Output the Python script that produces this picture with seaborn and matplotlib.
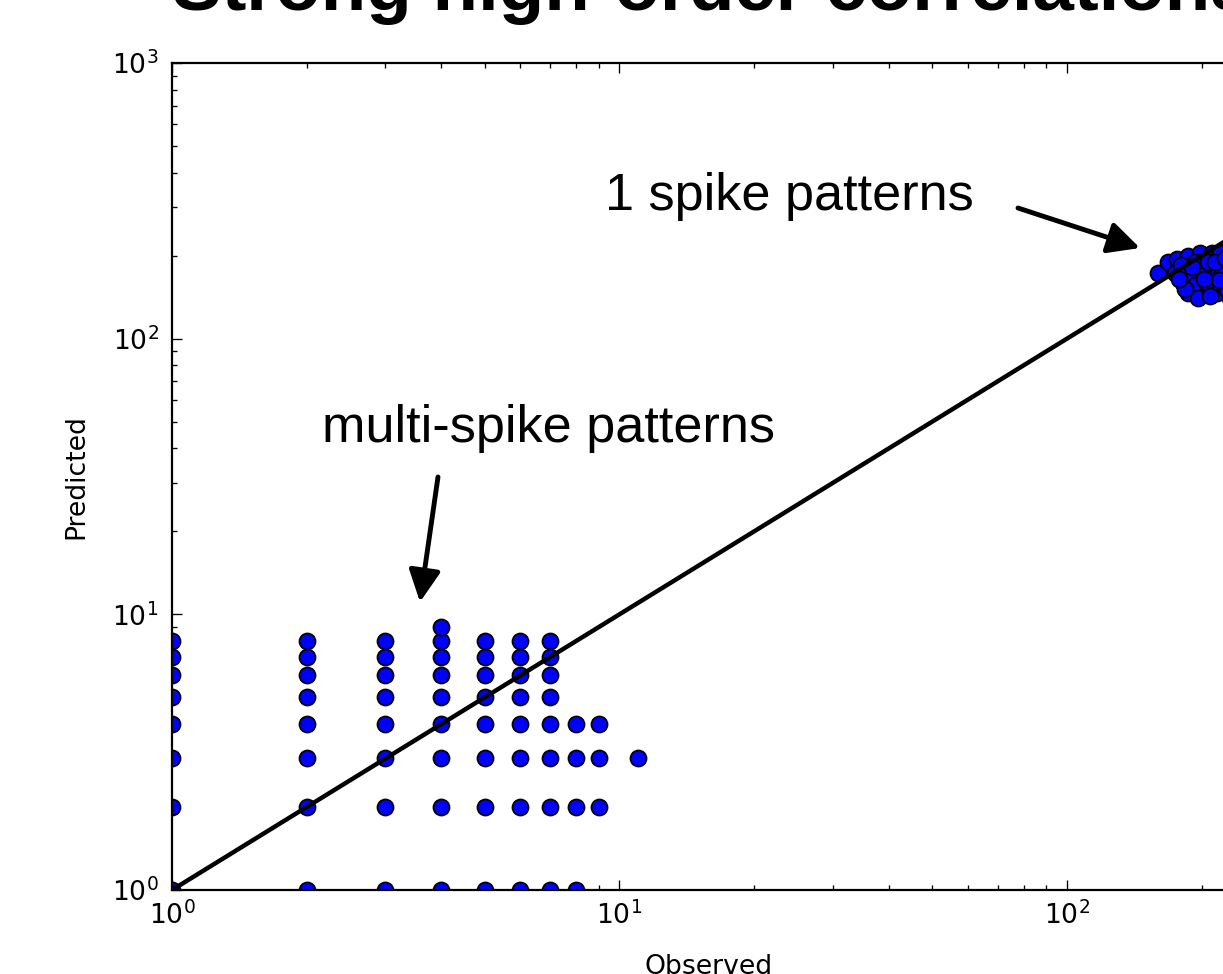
import matplotlib
matplotlib.use("Agg")
import matplotlib.pyplot as plt
import seaborn as sns
import pandas as pd

# ---------------- data ----------------
# multi-spike patterns (observed count, predicted count)
multi_observed = [1, 1, 1, 1, 1, 1, 1, 1,
                  2, 2, 2, 2, 2, 2, 2, 2,
                  3, 3, 3, 3, 3, 3, 3, 3,
                  4, 4, 4, 4, 4, 4, 4, 4, 4,
                  5, 5, 5, 5, 5, 5, 5, 5,
                  6, 6, 6, 6, 6, 6, 6, 6,
                  7, 7, 7, 7, 7, 7, 7, 7,
                  8, 8, 8, 8,
                  9, 9, 9,
                  11]
multi_predicted = [1, 2, 3, 4, 5, 6, 7, 8,
                   1, 2, 3, 4, 5, 6, 7, 8,
                   1, 2, 3, 4, 5, 6, 7, 8,
                   1, 2, 3, 4, 5, 6, 7, 8, 9,
                   1, 2, 3, 4, 5, 6, 7, 8,
                   1, 2, 3, 4, 5, 6, 7, 8,
                   1, 2, 3, 4, 5, 6, 7, 8,
                   1, 2, 3, 4,
                   2, 3, 4,
                   3]

# single-spike patterns (cluster)
single_observed = [160, 168, 176, 186, 198, 211, 220, 216, 212, 198, 186, 182,
                   174, 188, 201, 217, 193, 207, 222, 193, 224, 230, 240, 235,
                   228, 245, 180, 190, 205, 214, 196, 184, 209, 219, 226,
                   202, 178, 238, 232]
single_predicted = [173, 190, 195, 199, 204, 204, 204, 177, 156, 149, 146, 159,
                    173, 170, 173, 147, 190, 190, 173, 156, 157, 200, 210, 180,
                    150, 165, 185, 182, 160, 190, 141, 152, 143, 163, 196,
                    165, 165, 190, 140]

identity_x = [1, 1000]
identity_y = [1, 1000]

x_limits = [1, 250]
y_limits = [1, 1000]

x_label = "Observed"
y_label = "Predicted"
title = "Strong high-order correlations"
note_single = "1 spike patterns"
note_multi = "multi-spike patterns"

# ---------------- style ----------------
sns.set_style("white")
plt.rcParams.update({
    "font.family": ["DejaVu Sans"],
    "font.size": 12,
    "text.color": "black",
    "axes.labelcolor": "black",
    "mathtext.default": "regular",
    "axes.edgecolor": "black",
    "axes.linewidth": 1.0,
    "xtick.direction": "in",
    "ytick.direction": "in",
    "xtick.top": True,
    "ytick.right": True,
    "xtick.bottom": True,
    "ytick.left": True,
    "xtick.major.size": 4.5,
    "ytick.major.size": 4.5,
    "xtick.minor.size": 2.2,
    "ytick.minor.size": 2.2,
    "xtick.major.width": 0.6,
    "ytick.major.width": 0.6,
    "xtick.minor.width": 0.6,
    "ytick.minor.width": 0.6,
    "xtick.major.pad": 5,
    "ytick.major.pad": 6,
    "xtick.color": "black",
    "ytick.color": "black",
    "xtick.labelcolor": "black",
    "ytick.labelcolor": "black",
})

W, H, DPI = 1223, 974, 160
fig = plt.figure(figsize=(W / DPI, H / DPI), dpi=DPI)
# axes runs past the right edge of the picture (cropped slide)
ax = fig.add_axes([172 / W, 84 / H, (1245 - 172) / W, 827 / H])

df_multi = pd.DataFrame({"obs": multi_observed, "pred": multi_predicted})
df_single = pd.DataFrame({"obs": single_observed, "pred": single_predicted})
df_line = pd.DataFrame({"x": identity_x, "y": identity_y})

for d in (df_multi, df_single):
    sns.scatterplot(data=d, x="obs", y="pred", ax=ax, color="#0000ff",
                    edgecolor="black", linewidth=0.8, s=52, zorder=2)
sns.lineplot(data=df_line, x="x", y="y", ax=ax, color="black", lw=2.0,
             zorder=3)

ax.set_xscale("log")
ax.set_yscale("log")
ax.set_xlim(*x_limits)
ax.set_ylim(*y_limits)
ax.set_xlabel(x_label, fontsize=12, labelpad=11, color="black")
ax.set_ylabel(y_label, fontsize=12, labelpad=10, color="black")

# slide-style overlay text
fig.text(172 / W, 1 - 10 / H, title, fontsize=33.5, fontweight="bold",
         color="black",
         family=["Liberation Sans", "DejaVu Sans"], ha="left", va="baseline")
fig.text(605 / W, 1 - 210 / H, note_single, fontsize=23.5, color="black",
         family=["Liberation Sans", "DejaVu Sans"], ha="left", va="baseline")
fig.text(322 / W, 1 - 442 / H, note_multi, fontsize=23.5, color="black",
         family=["Liberation Sans", "DejaVu Sans"], ha="left", va="baseline")

arrow = dict(arrowstyle="-|>,head_length=1.2,head_width=0.6", lw=2.2,
             color="black", mutation_scale=10, shrinkA=0, shrinkB=0)
ax.annotate("", xy=(1140, H - 248), xytext=(1018, H - 208),
            xycoords="figure pixels", textcoords="figure pixels",
            arrowprops=arrow)
ax.annotate("", xy=(420, H - 602), xytext=(438, H - 477),
            xycoords="figure pixels", textcoords="figure pixels",
            arrowprops=arrow)

fig.savefig("out.png", dpi=DPI)
